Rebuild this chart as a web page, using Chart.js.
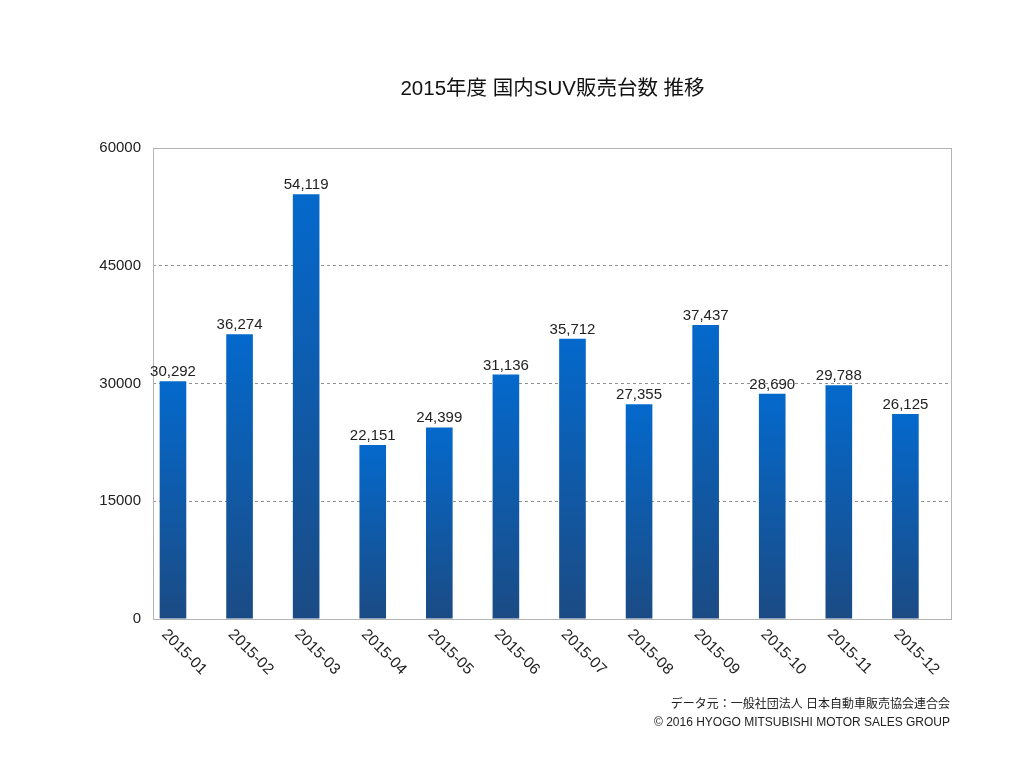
<!DOCTYPE html>
<html>
<head>
<meta charset="utf-8">
<script src="https://cdn.jsdelivr.net/npm/chart.js@4"></script>
<style>
  html, body { margin: 0; padding: 0; background: #fff; }
  #wrap { width: 1024px; height: 768px; }
</style>
</head>
<body>
<div id="wrap"><canvas id="myChart" width="1024" height="768"></canvas></div>
<script>
'use strict';

/* DATA */

var months = ['2015-01', '2015-02', '2015-03', '2015-04', '2015-05', '2015-06',
              '2015-07', '2015-08', '2015-09', '2015-10', '2015-11', '2015-12'];
var suvSales = [30292, 36274, 54119, 22151, 24399, 31136, 35712, 27355, 37437, 28690, 29788, 26125];
var yTicks = [0, 15000, 30000, 45000, 60000];

var titleText = '2015年度 国内SUV販売台数 推移';
var sourceText = 'データ元：一般社団法人 日本自動車販売協会連合会';
var copyText = '© 2016 HYOGO MITSUBISHI MOTOR SALES GROUP';

var FONT = '"Liberation Sans", "Noto Sans CJK JP", sans-serif';

/* PLUGINS */

// title, frame, value labels, rotated month labels, footer
var decorations = {
  id: 'decorations',
  beforeDatasetsDraw: function(chart) {
    var c = chart.ctx, a = chart.chartArea;
    c.save();
    c.strokeStyle = '#b4b4b4';
    c.lineWidth = 1;
    c.strokeRect(a.left + 0.5, a.top + 0.5, a.right - a.left - 1, a.bottom - a.top);
    c.restore();
  },
  afterDatasetsDraw: function(chart) {
    var c = chart.ctx, a = chart.chartArea;
    var bars = chart.getDatasetMeta(0).data;
    c.save();
    c.fillStyle = '#222';
    c.font = '15px ' + FONT;
    c.textAlign = 'center';
    c.textBaseline = 'alphabetic';
    bars.forEach(function(bar, i) {
      c.fillText(suvSales[i].toLocaleString('en-US'), bar.x, bar.y - 5);
    });

    // rotated month labels
    c.font = '15.5px ' + FONT;
    c.textAlign = 'left';
    c.textBaseline = 'middle';
    bars.forEach(function(bar, i) {
      c.save();
      c.translate(bar.x - 9, a.bottom + 13);
      c.rotate(Math.PI / 4);
      c.fillText(months[i], 0, 0);
      c.restore();
    });

    // title
    c.textAlign = 'center';
    c.textBaseline = 'middle';
    c.font = '20.5px ' + FONT;
    c.fillStyle = '#111';
    c.fillText(titleText, (a.left + a.right) / 2, 89);

    // footer
    c.textAlign = 'right';
    c.font = '12px ' + FONT;
    c.fillStyle = '#222';
    c.fillText(sourceText, a.right - 2, 705);
    c.fillText(copyText, a.right - 2, 723);
    c.restore();
  }
};

/* CHART */

// each bar gets its own top-to-bottom gradient
function barGradient(context) {
  var chart = context.chart;
  var a = chart.chartArea;
  if (!a || context.type !== 'data') return '#0a62b8';
  var top = chart.scales.y.getPixelForValue(context.parsed.y);
  var g = chart.ctx.createLinearGradient(0, top, 0, a.bottom);
  g.addColorStop(0, '#0469cc');
  g.addColorStop(1, '#1b4b84');
  return g;
}

var ctx = document.getElementById('myChart').getContext('2d');
var chart = new Chart(ctx, {
  type: 'bar',
  data: {
    labels: months,
    datasets: [{
      label: 'SUV',
      data: suvSales,
      backgroundColor: barGradient,
      borderWidth: 0
    },
    {
      // empty slot, keeps bars on the left half of each category
      label: '',
      data: []
    }]
  },
  plugins: [decorations],
  options: {
    responsive: false,
    animation: false,
    categoryPercentage: 0.8,
    barPercentage: 1.0,
    layout: { padding: { left: 0, right: 72, top: 148, bottom: 149 } },
    plugins: {
      legend: { display: false },
      title: { display: false },
      tooltip: { enabled: false }
    },
    scales: {
      x: {
        grid: { display: false },
        border: { display: false },
        ticks: { display: false },
        afterFit: function(s) { s.height = 0; }
      },
      y: {
        min: 0,
        max: 60000,
        afterBuildTicks: function(s) {
          s.ticks = yTicks.map(function(v) { return { value: v }; });
        },
        afterFit: function(s) { s.width = 153; },
        border: { display: false, dash: [3, 3] },
        grid: {
          drawTicks: false,
          color: function(c) {
            var v = c.tick && c.tick.value;
            return (v === 0 || v === 60000) ? 'rgba(0,0,0,0)' : '#909090';
          },
          lineWidth: 1
        },
        ticks: {
          padding: 12,
          color: '#222',
          font: { family: FONT, size: 15 },
          callback: function(v) { return String(v); }
        }
      }
    }
  }
});
</script>
</body>
</html>
